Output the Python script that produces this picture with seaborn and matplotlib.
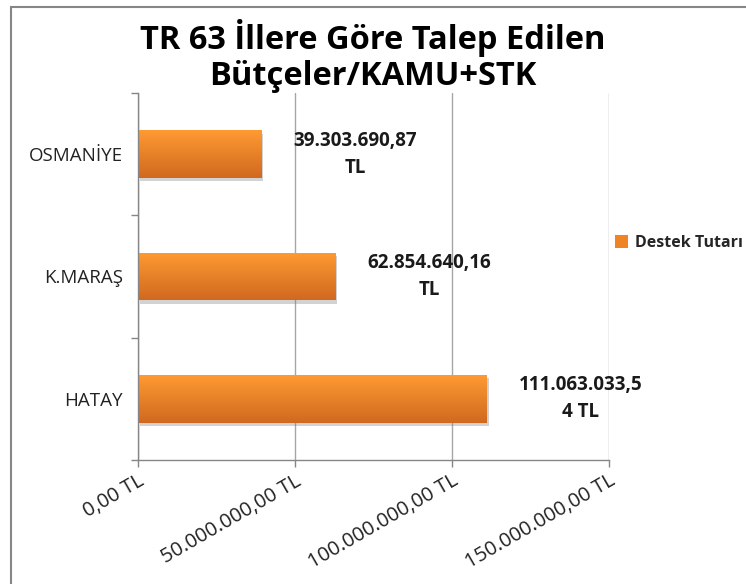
import numpy as np
import pandas as pd
import matplotlib
matplotlib.use('Agg')
import matplotlib.pyplot as plt
import matplotlib.patheffects as pe
from matplotlib.patches import Patch, Rectangle
from matplotlib.colors import LinearSegmentedColormap
import seaborn as sns

# Data
provinces = ['OSMANİYE', 'K.MARAŞ', 'HATAY']
amounts = [39303690.87, 62854640.16, 111063033.54]
value_labels = ['39.303.690,87\nTL', '62.854.640,16\nTL', '111.063.033,5\n4 TL']
xticks = [0, 50000000, 100000000, 150000000]
xtick_labels = ['0,00 TL', '50.000.000,00 TL', '100.000.000,00 TL', '150.000.000,00 TL']
series_name = 'Destek Tutarı'
title = 'TR 63 İllere Göre Talep Edilen\nBütçeler/KAMU+STK'

df = pd.DataFrame({'il': provinces, 'tutar': amounts})

sns.set_style('white')
plt.rcParams['font.family'] = ['Open Sans', 'DejaVu Sans']

fig = plt.figure(figsize=(7.46, 5.84), dpi=100)
ax = fig.add_axes([0.185, 0.2123, 0.631, 0.6285])

sns.barplot(data=df, x='tutar', y='il', orient='h', color='#F58A2A',
            width=0.39, ax=ax, zorder=3)

# gradient fill + shadow on bars
grad_cmap = LinearSegmentedColormap.from_list('og', ['#FF9A33', '#D0691F'])
grad = np.linspace(0, 1, 100).reshape(-1, 1)
for p in ax.patches:
    x0, y0 = p.get_x(), p.get_y()
    w, h = p.get_width(), p.get_height()
    p.set_edgecolor('none')
    p.set_path_effects([pe.SimplePatchShadow(offset=(1.5, -2.5), shadow_rgbFace='#808080', alpha=0.35),
                        pe.Normal()])
    im = ax.imshow(grad, cmap=grad_cmap, aspect='auto', extent=(x0, x0 + w, y0 + h, y0),
                   origin='upper', zorder=4)
    im.set_clip_path(p)

ax.set_xlim(0, 150000000)
ax.set_ylim(2.5, -0.5)

# value labels
for i, (v, lab) in enumerate(zip(amounts, value_labels)):
    ax.annotate(lab, xy=(v, i), xytext=(23, 0), textcoords='offset points',
                ha='left', va='center', multialignment='center', linespacing=1.45,
                fontsize=13.5, fontweight='bold', color='#1a1a1a', zorder=5)

ax.set_xticks(xticks)
ax.set_xticklabels(xtick_labels, rotation=30, ha='right', rotation_mode='anchor',
                   fontsize=14.5, color='#222222')
ax.set_yticks(range(len(provinces)))
ax.set_yticklabels(provinces, fontsize=13.5, color='#222222')
ax.set_yticks([-0.5, 0.5, 1.5, 2.5], minor=True)
ax.tick_params(axis='y', which='major', length=0, pad=11)
ax.tick_params(axis='y', which='minor', length=5, color='#868686', width=1, left=True)
ax.tick_params(axis='x', length=5, color='#868686', width=1, bottom=True, pad=3)
ax.set_xlabel('')
ax.set_ylabel('')

ax.grid(axis='x', color='#A6A6A6', linewidth=1, zorder=0)
ax.set_axisbelow(True)
for s in ['top', 'right']:
    ax.spines[s].set_visible(False)
for s in ['left', 'bottom']:
    ax.spines[s].set_color('#868686')
    ax.spines[s].set_linewidth(1)
    ax.spines[s].set_zorder(6)

fig.text(0.5, 1 - 56 / 584, title, ha='center', va='center', fontsize=23.5, fontweight='bold',
         linespacing=1.15, color='#000000')

handle = Patch(facecolor='#F08326', edgecolor='none')
fig.legend([handle], [series_name], loc='center left', bbox_to_anchor=(615 / 746, 1 - 243 / 584),
           frameon=False, borderpad=0, borderaxespad=0, handlelength=0.8, handleheight=0.8,
           handletextpad=0.45, prop={'size': 11.5, 'weight': 'bold'})

# outer chart frame
fig.patches.append(Rectangle((0.0147, -0.05), 1.1, 1.038, transform=fig.transFigure,
                             fill=False, edgecolor='#868686', linewidth=1.5))

fig.savefig('out.png', dpi=100)
